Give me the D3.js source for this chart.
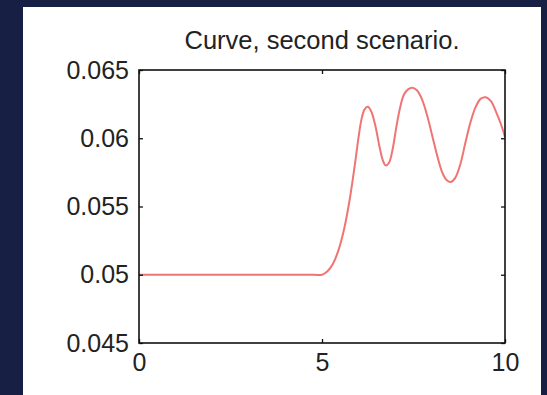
<!DOCTYPE html>
<html>
<head>
<meta charset="utf-8">
<script src="https://cdn.jsdelivr.net/npm/d3@7"></script>
<style>
html,body{margin:0;padding:0;background:#171f45;}
svg{display:block;}
</style>
</head>
<body>
<svg id="chart" width="547" height="395"></svg>
<script>
const title = "Curve, second scenario.";
const xValues = [0, 1, 2, 3, 4, 4.8, 5.0, 5.15, 5.3, 5.45, 5.6, 5.75, 5.9, 6.0, 6.08, 6.16, 6.25, 6.34, 6.45, 6.57, 6.66, 6.74, 6.83, 6.93, 7.03, 7.13, 7.24, 7.36, 7.47, 7.6, 7.74, 7.88, 8.02, 8.16, 8.3, 8.42, 8.52, 8.64, 8.78, 8.92, 9.06, 9.2, 9.34, 9.48, 9.62, 9.76, 9.88, 10];
const yValues = [0.05, 0.05, 0.05, 0.05, 0.05, 0.05, 0.05, 0.05025, 0.0508, 0.0518, 0.0533, 0.0554, 0.0581, 0.0601, 0.0614, 0.0621, 0.0623, 0.0620, 0.0610, 0.0594, 0.0584, 0.0580, 0.0582, 0.0592, 0.0608, 0.0622, 0.0632, 0.0636, 0.0637, 0.0635, 0.0628, 0.0616, 0.0601, 0.0586, 0.0574, 0.0569, 0.0568, 0.0571, 0.0581, 0.0597, 0.0612, 0.0623, 0.0629, 0.0630, 0.0627, 0.0619, 0.0611, 0.0601];
const xTicks = [0, 5, 10];
const yTicks = [0.045, 0.05, 0.055, 0.06, 0.065];
const yTickLabels = ["0.045", "0.05", "0.055", "0.06", "0.065"];

const svg = d3.select("#chart");
// white panel
svg.append("rect").attr("x", 23).attr("y", 7).attr("width", 518).attr("height", 388).attr("fill", "#ffffff");

const L = 139, R = 505, T = 70, B = 343;
const x = d3.scaleLinear().domain([0, 10]).range([L, R]);
const y = d3.scaleLinear().domain([0.045, 0.065]).range([B, T]);
const font = "'Liberation Sans', Arial, Helvetica, sans-serif";

// title
svg.append("text").attr("x", (L + R) / 2).attr("y", 49).attr("text-anchor", "middle")
  .attr("font-family", font).attr("font-size", 25.5).attr("fill", "#222").text(title);

// curve
const data = xValues.map((d, i) => [d, yValues[i]]);
const line = d3.line().x(d => x(d[0])).y(d => y(d[1])).curve(d3.curveCatmullRom.alpha(0.5));
svg.append("path").datum(data).attr("d", line).attr("fill", "none")
  .attr("stroke", "#f07474").attr("stroke-width", 2);

// axes with inward ticks
const tickLen = 4;
const axB = d3.axisBottom(x).tickValues(xTicks).tickSize(-tickLen).tickPadding(10).tickFormat(d3.format("d"));
const axT = d3.axisTop(x).tickValues(xTicks).tickSize(-tickLen).tickFormat("");
const axL = d3.axisLeft(y).tickValues(yTicks).tickSize(-tickLen).tickPadding(10).tickFormat((d, i) => yTickLabels[i]);
const axR = d3.axisRight(y).tickValues(yTicks).tickSize(-tickLen).tickFormat("");

function style(g) {
  g.select(".domain").remove();
  g.selectAll(".tick line").attr("stroke", "#111").attr("stroke-width", 1.3);
  g.selectAll("text").attr("font-family", font).attr("font-size", 25).attr("fill", "#222");
}
svg.append("g").attr("transform", `translate(0,${B})`).call(axB).call(style);
svg.append("g").attr("transform", `translate(0,${T})`).call(axT).call(style);
svg.append("g").attr("transform", `translate(${L},0)`).call(axL).call(style);
svg.append("g").attr("transform", `translate(${R},0)`).call(axR).call(style);

// frame
svg.append("rect").attr("x", L).attr("y", T).attr("width", R - L).attr("height", B - T)
  .attr("fill", "none").attr("stroke", "#111").attr("stroke-width", 1.6);
</script>
</body>
</html>
